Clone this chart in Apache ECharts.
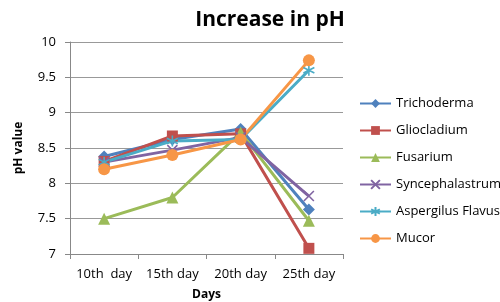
<!DOCTYPE html>
<html>
<head>
<meta charset="utf-8">
<script src="https://cdn.jsdelivr.net/npm/echarts@6/dist/echarts.min.js"></script>
<style>
  html, body { margin: 0; padding: 0; background: #fff; }
  #chart { width: 500px; height: 302px; }
</style>
</head>
<body>
<div id="chart"></div>
<script>
// days on the x axis
var days = ['10th  day', '15th day', '20th day', '25th day'];
// pH per organism
var trichoderma = [8.38, 8.62, 8.77, 7.63];
var gliocladium = [8.31, 8.67, 8.70, 7.08];
var fusarium = [7.50, 7.80, 8.72, 7.47];
var syncephalastrum = [8.30, 8.47, 8.65, 7.82];
var aspergilus = [8.30, 8.60, 8.62, 9.60];
var mucor = [8.20, 8.40, 8.62, 9.74];
var yTicks = [7, 7.5, 8, 8.5, 9, 9.5, 10];

var font = '"Open Sans", "Liberation Sans", sans-serif';
var crossPath = 'path://M0,0L10,10M10,0L0,10';
var starPath = 'path://M5,0L5,10M0,2.5L10,7.5M0,7.5L10,2.5';

function makeSeries(name, data, color, symbol, size, stroked) {
  return {
    name: name,
    type: 'line',
    data: data,
    symbol: symbol,
    symbolSize: size,
    showAllSymbol: true,
    lineStyle: { color: color, width: 3 },
    itemStyle: stroked
      ? { color: color, borderColor: color, borderWidth: 1.6 }
      : { color: color },
    emphasis: { disabled: true }
  };
}

var chart = echarts.init(document.getElementById('chart'), null, { renderer: 'canvas' });
chart.setOption({
  animation: false,
  textStyle: { fontFamily: font },
  title: {
    text: 'Increase in pH',
    left: 265,
    top: 5,
    textAlign: 'center',
    textStyle: { fontSize: 21, fontWeight: 'bold', color: '#000', fontFamily: font }
  },
  legend: {
    orient: 'vertical',
    left: 354,
    top: 92,
    itemGap: 14,
    itemWidth: 31,
    itemHeight: 11,
    textStyle: { fontSize: 13, color: '#000', fontFamily: font },
    data: ['Trichoderma', 'Gliocladium', 'Fusarium', 'Syncephalastrum', 'Aspergilus Flavus', 'Mucor']
  },
  grid: { left: 70, right: 157, top: 42, bottom: 48, outerBoundsMode: 'none' },
  xAxis: {
    type: 'category',
    data: days,
    boundaryGap: true,
    name: 'Days',
    nameLocation: 'middle',
    nameGap: 35,
    nameTextStyle: { fontSize: 12, fontWeight: 'bold', color: '#000' },
    axisLine: { lineStyle: { color: '#888' } },
    axisTick: { show: true, length: 5, lineStyle: { color: '#888' } },
    axisLabel: { color: '#000', fontSize: 13, margin: 14, interval: 0, hideOverlap: false },
    splitLine: { show: false }
  },
  yAxis: {
    type: 'value',
    min: yTicks[0],
    max: yTicks[yTicks.length - 1],
    interval: 0.5,
    name: 'pH value',
    nameLocation: 'middle',
    nameGap: 45,
    nameTextStyle: { fontSize: 12, fontWeight: 'bold', color: '#000' },
    axisLine: { show: true, lineStyle: { color: '#888' } },
    axisTick: { show: true, length: 5, lineStyle: { color: '#888' } },
    axisLabel: { color: '#000', fontSize: 13, margin: 14 },
    splitLine: { lineStyle: { color: '#999' } }
  },
  series: [
    makeSeries('Trichoderma', trichoderma, '#4F81BD', 'diamond', 12),
    makeSeries('Gliocladium', gliocladium, '#C0504D', 'rect', 11),
    makeSeries('Fusarium', fusarium, '#9BBB59', 'triangle', 12),
    makeSeries('Syncephalastrum', syncephalastrum, '#8064A2', crossPath, 10, true),
    makeSeries('Aspergilus Flavus', aspergilus, '#4BACC6', starPath, 11, true),
    makeSeries('Mucor', mucor, '#F79646', 'circle', 12)
  ]
});
</script>
</body>
</html>
